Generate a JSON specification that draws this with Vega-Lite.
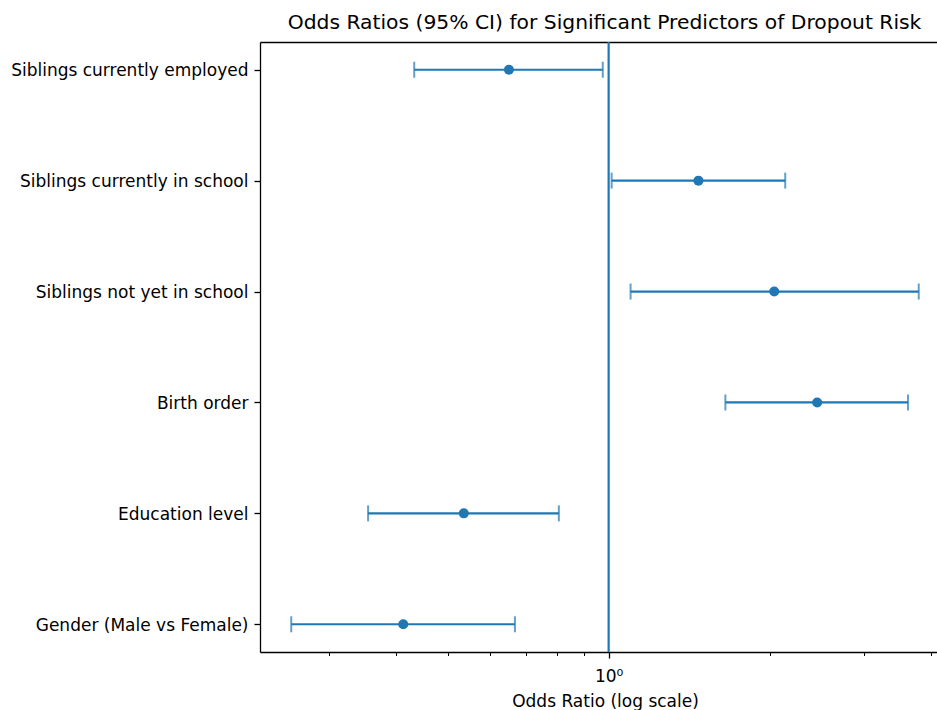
{
  "$schema": "https://vega.github.io/schema/vega-lite/v6.json",
  "autosize": "none",
  "padding": {"left": 260, "top": 42, "right": 0, "bottom": 58},
  "width": 677,
  "height": 610,
  "title": {"text": "Odds Ratios (95% CI) for Significant Predictors of Dropout Risk", "fontSize": 20.3, "fontWeight": "normal", "font": "DejaVu Sans", "color": "black", "anchor": "middle", "frame": "group", "dx": 6, "offset": 8},
  "config": {"font": "DejaVu Sans", "view": {"stroke": null}},
  "resolve": {"axis": {"x": "independent"}, "scale": {"x": "shared"}},
  "data": {"values": [
    {"label": "Siblings currently employed", "or": 0.651, "lo": 0.433, "hi": 0.975},
    {"label": "Siblings currently in school", "or": 1.472, "lo": 1.013, "hi": 2.139},
    {"label": "Siblings not yet in school", "or": 2.04, "lo": 1.099, "hi": 3.8},
    {"label": "Birth order", "or": 2.454, "lo": 1.653, "hi": 3.628},
    {"label": "Education level", "or": 0.536, "lo": 0.355, "hi": 0.807},
    {"label": "Gender (Male vs Female)", "or": 0.413, "lo": 0.255, "hi": 0.668}
  ]},
  "layer": [
    {
      "data": {"values": [{"ref": 1}]},
      "mark": {"type": "rule", "color": "#1f77b4", "strokeWidth": 2.2},
      "encoding": {
        "x": {"field": "ref", "type": "quantitative", "scale": {"type": "log", "domain": [0.2229, 4.111], "nice": false},
          "axis": {"values": [0.3, 0.4, 0.5, 0.6, 0.7, 0.8, 0.9, 1, 2, 3, 4], "labelExpr": "datum.value == 1 ? '10⁰' : ''", "grid": false,
            "tickSize": {"condition": {"test": "datum.value == 1", "value": 6}, "value": 3.5},
            "tickWidth": {"condition": {"test": "datum.value == 1", "value": 1.3}, "value": 1},
            "tickColor": "black", "domainColor": "black", "domainWidth": 1.3, "labelFontSize": 17, "labelColor": "black", "labelPadding": 10, "labelFlush": false, "labelOverlap": false,
            "title": "Odds Ratio (log scale)", "titleFontSize": 17, "titleFontWeight": "normal", "titleColor": "black", "titlePadding": 9, "titleX": 345, "titleAlign": "center"}}
      }
    },
    {
      "mark": {"type": "rule", "color": "#1f77b4", "strokeWidth": 2.2},
      "encoding": {
        "y": {"field": "label", "type": "nominal", "sort": null, "scale": {"type": "point", "padding": 0.25},
          "axis": {"title": null, "labelFontSize": 17, "labelColor": "black", "labelPadding": 6, "labelOffset": 1, "labelLimit": 0, "tickSize": 6, "tickWidth": 1.3, "tickColor": "black", "domainColor": "black", "domainWidth": 1.3, "grid": false}},
        "x": {"field": "lo", "type": "quantitative", "axis": null},
        "x2": {"field": "hi"}
      }
    },
    {
      "mark": {"type": "tick", "color": "#1f77b4", "size": 16, "thickness": 2, "orient": "vertical"},
      "encoding": {
        "y": {"field": "label", "type": "nominal", "sort": null},
        "x": {"field": "lo", "type": "quantitative", "axis": null}
      }
    },
    {
      "mark": {"type": "tick", "color": "#1f77b4", "size": 16, "thickness": 2, "orient": "vertical"},
      "encoding": {
        "y": {"field": "label", "type": "nominal", "sort": null},
        "x": {"field": "hi", "type": "quantitative", "axis": null}
      }
    },
    {
      "mark": {"type": "point", "filled": true, "color": "#1f77b4", "opacity": 1, "size": 100},
      "encoding": {
        "y": {"field": "label", "type": "nominal", "sort": null},
        "x": {"field": "or", "type": "quantitative", "axis": {"orient": "top", "labels": false, "ticks": false, "title": null, "grid": false, "domainColor": "black", "domainWidth": 1.3}}
      }
    }
  ]
}
